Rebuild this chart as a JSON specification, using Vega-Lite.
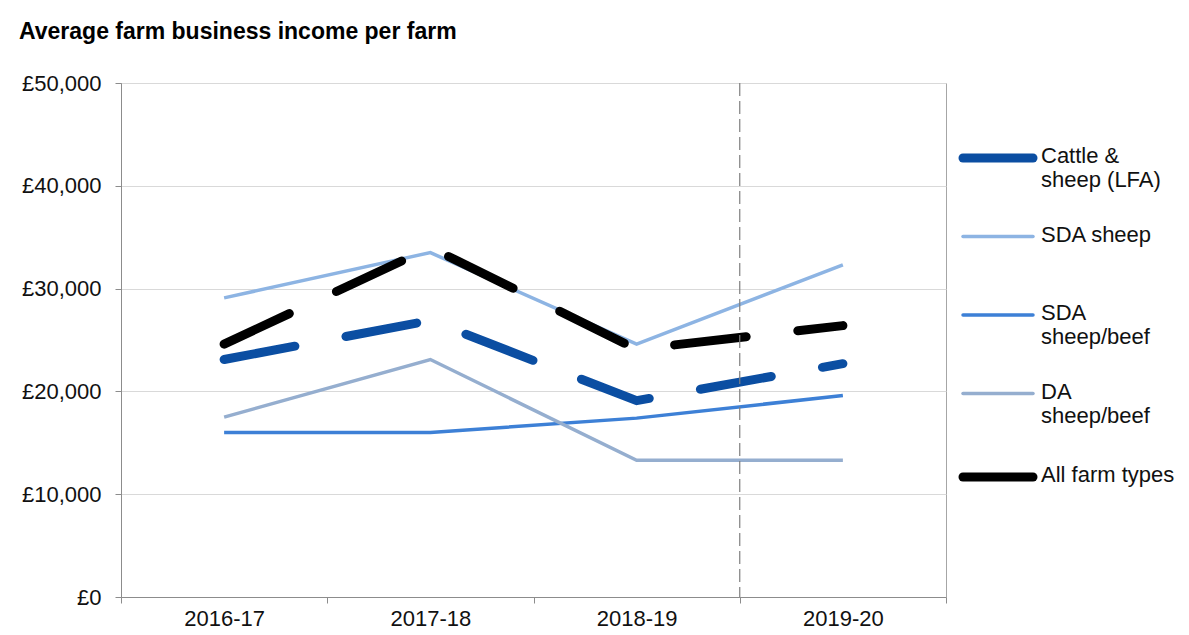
{
  "$schema": "https://vega.github.io/schema/vega-lite/v6.json",
  "autosize": "none",
  "width": 825,
  "height": 514,
  "padding": {"left": 121, "top": 83, "right": 243, "bottom": 38},
  "background": "white",
  "config": {"view": {"stroke": "#a6a6a6", "strokeWidth": 1}, "font": "Liberation Sans"},
  "title": {
    "text": "Average farm business income per farm",
    "anchor": "start",
    "frame": "group",
    "dx": -102,
    "fontSize": 23,
    "fontWeight": "bold",
    "font": "Liberation Sans",
    "color": "#000000",
    "baseline": "alphabetic",
    "offset": 10
  },
  "datasets": {
    "income": [
      {"year": "2016-17", "series": "Cattle & sheep (LFA)", "value": 23100},
      {"year": "2017-18", "series": "Cattle & sheep (LFA)", "value": 26900},
      {"year": "2018-19", "series": "Cattle & sheep (LFA)", "value": 19100},
      {"year": "2019-20", "series": "Cattle & sheep (LFA)", "value": 22700},
      {"year": "2016-17", "series": "SDA sheep", "value": 29100},
      {"year": "2017-18", "series": "SDA sheep", "value": 33500},
      {"year": "2018-19", "series": "SDA sheep", "value": 24600},
      {"year": "2019-20", "series": "SDA sheep", "value": 32300},
      {"year": "2016-17", "series": "SDA sheep/beef", "value": 16000},
      {"year": "2017-18", "series": "SDA sheep/beef", "value": 16000},
      {"year": "2018-19", "series": "SDA sheep/beef", "value": 17400},
      {"year": "2019-20", "series": "SDA sheep/beef", "value": 19600},
      {"year": "2016-17", "series": "DA sheep/beef", "value": 17500},
      {"year": "2017-18", "series": "DA sheep/beef", "value": 23100},
      {"year": "2018-19", "series": "DA sheep/beef", "value": 13300},
      {"year": "2019-20", "series": "DA sheep/beef", "value": 13300},
      {"year": "2016-17", "series": "All farm types", "value": 24600},
      {"year": "2017-18", "series": "All farm types", "value": 34000},
      {"year": "2018-19", "series": "All farm types", "value": 24100},
      {"year": "2019-20", "series": "All farm types", "value": 26400}
    ],
    "marker": [{"year": "2019-20"}]
  },
  "layer": [
    {
      "data": {"name": "income"},
      "transform": [{"filter": {"field": "series", "oneOf": ["SDA sheep", "SDA sheep/beef", "DA sheep/beef"]}}],
      "mark": {"type": "line", "strokeWidth": 3.5, "strokeCap": "butt", "strokeJoin": "miter"},
      "encoding": {
        "x": {
          "field": "year", "type": "ordinal",
          "scale": {"type": "band", "paddingInner": 0, "paddingOuter": 0},
          "axis": {
            "title": null, "labelAngle": 0, "tickBand": "extent", "grid": false,
            "domainColor": "#8c8c8c", "tickColor": "#8c8c8c", "tickSize": 6,
            "labelFontSize": 22, "labelColor": "#111111", "labelPadding": 5, "labelFont": "Liberation Sans"
          }
        },
        "y": {
          "field": "value", "type": "quantitative",
          "scale": {"domain": [0, 50000], "nice": false},
          "axis": {
            "title": null, "values": [0, 10000, 20000, 30000, 40000, 50000],
            "labelExpr": "'£' + format(datum.value, ',')",
            "gridColor": "#d9d9d9", "domainColor": "#8c8c8c", "tickColor": "#8c8c8c", "tickSize": 6,
            "labelFontSize": 22, "labelColor": "#111111", "labelPadding": 14, "labelFont": "Liberation Sans"
          }
        },
        "color": {
          "field": "series", "type": "nominal",
          "scale": {
            "domain": ["Cattle & sheep (LFA)", "SDA sheep", "SDA sheep/beef", "DA sheep/beef", "All farm types"],
            "range": ["#0b4ea2", "#8db4e3", "#3d80d6", "#95aecf", "#000000"]
          },
          "legend": {
            "title": null,
            "orient": "none",
            "legendX": 866,
            "legendY": 64,
            "symbolType": "stroke",
            "symbolSize": 4900,
            "symbolDash": [],
            "labelFontSize": 22,
            "labelFont": "Liberation Sans",
            "labelColor": "#111111",
            "labelOffset": 32,
            "labelBaseline": "top",
            "labelLimit": 300,
            "rowPadding": 32.5,
            "labelExpr": "datum.label == 'Cattle & sheep (LFA)' ? ['Cattle &', 'sheep (LFA)'] : datum.label == 'SDA sheep/beef' ? ['SDA', 'sheep/beef'] : datum.label == 'DA sheep/beef' ? ['DA', 'sheep/beef'] : [datum.label, '']",
            "encode": {
              "labels": {"update": {"dy": {"value": -12}}},
              "symbols": {
                "update": {
                  "strokeWidth": {"signal": "datum.value == 'Cattle & sheep (LFA)' || datum.value == 'All farm types' ? 9 : 3.5"},
                  "strokeCap": {"value": "round"},
                  "strokeDash": {"value": []}
                }
              }
            }
          }
        }
      }
    },
    {
      "data": {"name": "income"},
      "transform": [{"filter": {"field": "series", "oneOf": ["Cattle & sheep (LFA)", "All farm types"]}}],
      "mark": {"type": "line", "strokeWidth": 9, "strokeCap": "round", "strokeJoin": "round", "strokeDash": [72, 52]},
      "encoding": {
        "x": {"field": "year", "type": "ordinal"},
        "y": {"field": "value", "type": "quantitative"},
        "color": {"field": "series", "type": "nominal"}
      }
    },
    {
      "data": {"name": "marker"},
      "mark": {"type": "rule", "strokeDash": [13, 5], "color": "#7f7f7f", "strokeWidth": 1.2},
      "encoding": {
        "x": {"field": "year", "type": "ordinal", "bandPosition": 0}
      }
    }
  ]
}
